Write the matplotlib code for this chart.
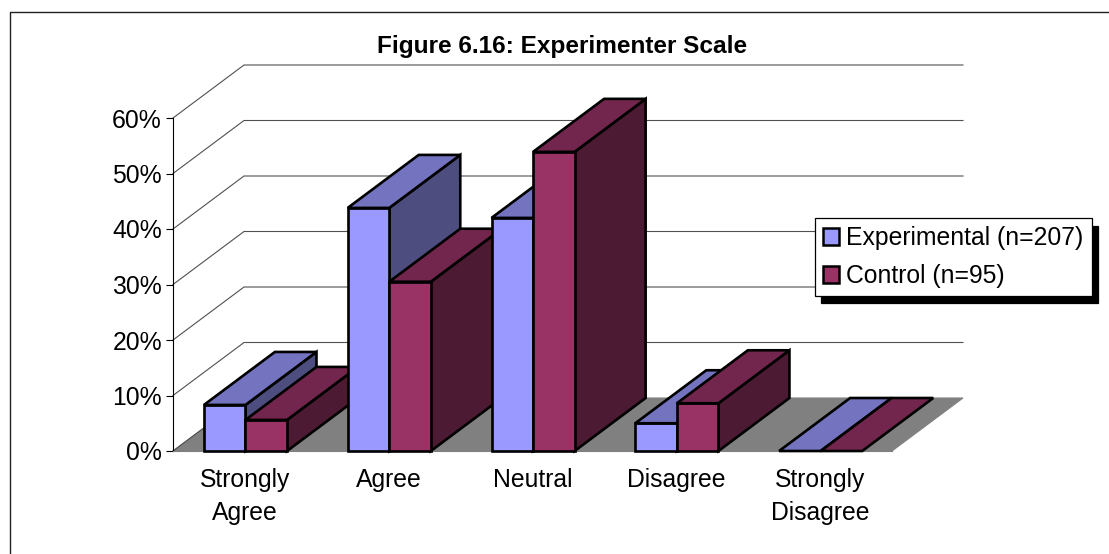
import matplotlib
matplotlib.use("Agg")
import matplotlib.pyplot as plt
from matplotlib.lines import Line2D
from matplotlib.patches import Polygon, Patch

plt.rcParams['font.family'] = ['Liberation Sans', 'DejaVu Sans']

categories = ["Strongly\nAgree", "Agree", "Neutral", "Disagree", "Strongly\nDisagree"]
experimental = [8.3, 43.8, 42.0, 5.0, 0.0]
control = [5.6, 30.5, 53.9, 8.6, 0.0]
series_names = ["Experimental (n=207)", "Control (n=95)"]
y_ticks = [0, 10, 20, 30, 40, 50, 60]

W, H = 1109, 554
# depth of the fake 3D box, in data units
DX = 71 / 143.8
DY = 53 / 5.55
BAR_W = 0.289
BAR_START = 0.215

FRONT = ["#9999FF", "#993366"]
TOP = ["#7373BF", "#73264D"]
SIDE = ["#4D4D80", "#4D1A33"]

fig = plt.figure(figsize=(W / 100, H / 100), dpi=100)
ax = fig.add_axes([173 / W, 1 - 451 / H, (892 - 173) / W, (451 - 118) / H])
ax.set_xlim(0, 5)
ax.set_ylim(0, 60)

# outer chart border (right and bottom fall off the picture)
fig.add_artist(Line2D([9.5 / W, 9.5 / W, 1], [0, 1 - 11.5 / H, 1 - 11.5 / H],
                      color="#222222", lw=1.0))

# floor
ax.add_patch(Polygon([(0, 0), (5, 0), (5 + DX, DY), (DX, DY)], closed=True,
                     facecolor="#808080", edgecolor="#808080", lw=0.8,
                     clip_on=False, zorder=1))

# walls: gridlines go up the side wall and along the back
for t in y_ticks[1:]:
    ax.plot([0, DX, 5 + DX], [t, t + DY, t + DY], color="#505050", lw=0.8,
            clip_on=False, zorder=1.5, solid_joinstyle="miter")
ax.plot([0, DX], [0, DY], color="#505050", lw=0.8, clip_on=False, zorder=1.5)


def draw_bar(x0, value, s, z):
    x1 = x0 + BAR_W
    style = dict(closed=True, edgecolor="black", lw=1.9, clip_on=False,
                 joinstyle="miter", zorder=z)
    if value > 0:
        ax.add_patch(Polygon([(x1, 0), (x1 + DX, DY), (x1 + DX, value + DY), (x1, value)],
                             facecolor=SIDE[s], **style))
        ax.add_patch(Polygon([(x0, 0), (x1, 0), (x1, value), (x0, value)],
                             facecolor=FRONT[s], **style))
    ax.add_patch(Polygon([(x0, value), (x1, value), (x1 + DX, value + DY), (x0 + DX, value + DY)],
                         facecolor=TOP[s], **style))


z = 3
for i in range(len(categories)):
    for s, vals in enumerate([experimental, control]):
        draw_bar(i + BAR_START + s * BAR_W, vals[i], s, z)
        z += 0.1

ax.set_yticks(y_ticks)
ax.set_yticklabels([f"{t}%" for t in y_ticks], fontsize=17.8)
ax.set_xticks([i + 0.5 for i in range(len(categories))])
ax.set_xticklabels(categories, fontsize=17.8, linespacing=1.43)
ax.tick_params(axis="x", length=0, pad=12.5)
ax.tick_params(axis="y", length=5, width=0.8, pad=3)
for name in ["top", "right"]:
    ax.spines[name].set_visible(False)
ax.spines["left"].set_linewidth(0.8)
ax.spines["bottom"].set_linewidth(0.8)
ax.spines["bottom"].set_color("#808080")
ax.patch.set_alpha(0)

fig.text(562.5 / W, 1 - 47 / H, "Figure 6.16: Experimenter Scale", fontsize=17.6,
         fontweight="bold", ha="center", va="center")

handles = [Patch(facecolor=FRONT[0], edgecolor="black", lw=1.8),
           Patch(facecolor=FRONT[1], edgecolor="black", lw=1.8)]
leg = fig.legend(handles, series_names, loc="center left",
                 bbox_to_anchor=(814.5 / W, 1 - 257 / H), fontsize=17.8,
                 frameon=True, fancybox=False, framealpha=1, edgecolor="black",
                 shadow={"color": "black", "alpha": 1, "ox": 5, "oy": -5.5},
                 handlelength=0.68, handleheight=0.68, handletextpad=0.27,
                 borderpad=0.33, labelspacing=0.54, borderaxespad=0)
leg.get_frame().set_linewidth(0.9)

fig.savefig("out.png", dpi=100)
